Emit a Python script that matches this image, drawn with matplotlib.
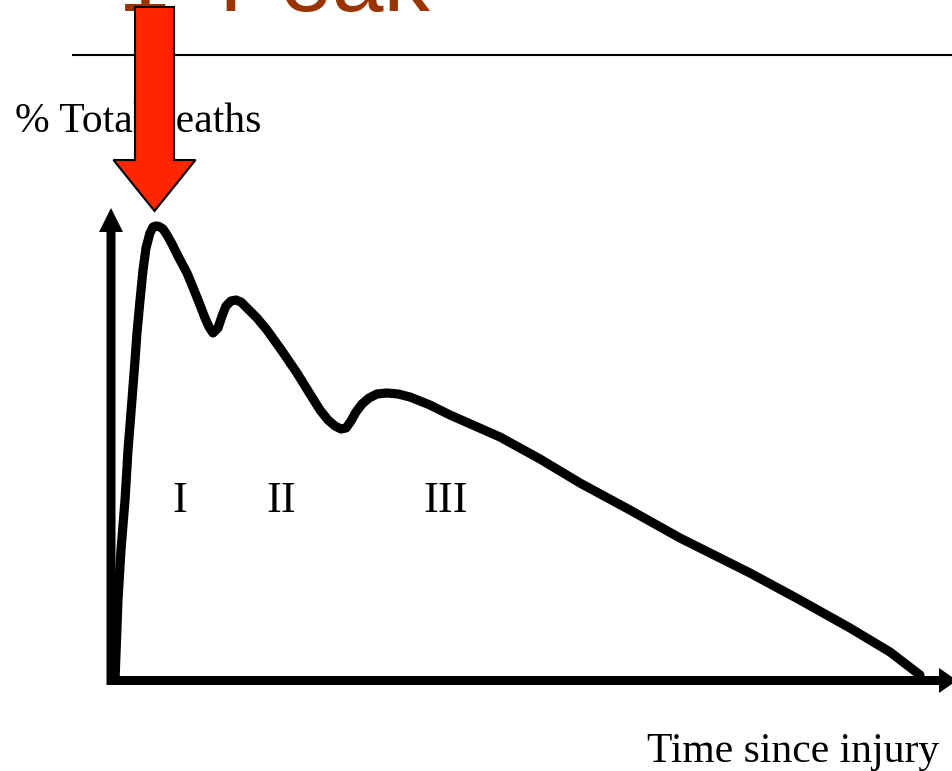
import matplotlib
matplotlib.use("Agg")
import matplotlib.pyplot as plt
from matplotlib.patches import FancyArrow

# curve: time since injury (0-100) vs % total deaths (0-100)
time = [0.25, 0.62, 0.99, 1.49, 1.86, 2.35, 2.73, 2.97, 3.35, 3.72, 4.09, 4.58, 4.96,
        5.33, 5.70, 6.20, 6.69, 7.31, 8.05, 9.17, 10.04, 10.78, 11.40, 11.90, 12.39,
        13.01, 13.51, 14.00, 14.62, 15.24, 15.86, 16.60, 17.84, 19.08, 20.94, 22.80,
        24.41, 25.65, 26.64, 27.51, 28.25, 28.87, 29.49, 30.11, 30.86, 31.72, 32.71,
        33.95, 35.32, 36.80, 39.28, 41.76, 44.86, 47.96, 52.91, 57.87, 64.06, 70.26,
        78.93, 85.13, 91.33, 96.28, 100.0]
deaths = [0.0, 17.62, 28.63, 39.65, 50.66, 61.67, 70.48, 76.43, 83.70, 90.31, 95.15,
          98.46, 99.78, 100.0, 99.9, 99.34, 98.02, 96.04, 93.39, 89.65, 85.90, 82.60,
          79.74, 77.75, 76.43, 77.53, 80.18, 82.38, 83.48, 83.70, 83.26, 81.94, 79.74,
          77.09, 72.47, 67.62, 63.00, 59.47, 57.27, 55.95, 55.29, 55.51, 57.05, 59.03,
          60.79, 62.11, 63.00, 63.22, 63.00, 62.33, 60.57, 58.37, 55.95, 53.52, 48.68,
          43.39, 37.44, 31.28, 23.57, 17.62, 11.45, 6.17, 1.10]

phase_labels = ["I", "II", "III"]
phase_x = [180, 281, 446]

W, H = 952, 771
fig = plt.figure(figsize=(W / 100, H / 100), dpi=100)

# data axes: origin at pixel (113, 680), top of peak at (920, 226)
ax = fig.add_axes([113 / W, (H - 680) / H, (920 - 113) / W, (680 - 226) / H])
ax.set_xlim(0, 100)
ax.set_ylim(0, 100)
ax.axis("off")
ax.plot(time, deaths, color="black", lw=6.6, solid_joinstyle="round",
        solid_capstyle="round", clip_on=False)

# overlay in pixel coordinates for the slide decorations
ov = fig.add_axes([0, 0, 1, 1])
ov.set_xlim(0, W)
ov.set_ylim(H, 0)
ov.axis("off")
ov.patch.set_alpha(0)

title_col = "#993300"
ov.text(118, 11, "1", fontsize=67, color=title_col, family="Liberation Sans",
        va="baseline", ha="left", clip_on=False)
ov.text(168, -50, "st", fontsize=38, color=title_col, family="Liberation Sans",
        va="baseline", ha="left", clip_on=False)
ov.text(218, 11, "Peak", fontsize=67, color=title_col, family="Liberation Sans",
        va="baseline", ha="left", clip_on=False)

ov.plot([73, 952], [55, 55], color="black", lw=1.5)

serif = "Liberation Serif"
ov.text(15, 132, "% Total deaths", fontsize=30, family=serif, va="baseline", ha="left")
ov.text(647, 762, "Time since injury", fontsize=30, family=serif, va="baseline", ha="left")
for lab, px in zip(phase_labels, phase_x):
    ov.text(px, 512, lab, fontsize=32, family=serif, va="baseline", ha="center")

# axes arrows
ov.add_patch(FancyArrow(111, 685, 0, -477, width=9, head_width=24, head_length=24,
                        length_includes_head=True, color="black", lw=0))
ov.add_patch(FancyArrow(107, 680.5, 850, 0, width=9, head_width=25, head_length=18,
                        length_includes_head=True, color="black", lw=0, clip_on=False))

# red arrow pointing at the first peak
ov.add_patch(FancyArrow(154.5, 7, 0, 204, width=39, head_width=82, head_length=51,
                        length_includes_head=True, facecolor="#FF2600",
                        edgecolor="black", lw=1.5, zorder=5))

fig.savefig("out.png", dpi=100)
